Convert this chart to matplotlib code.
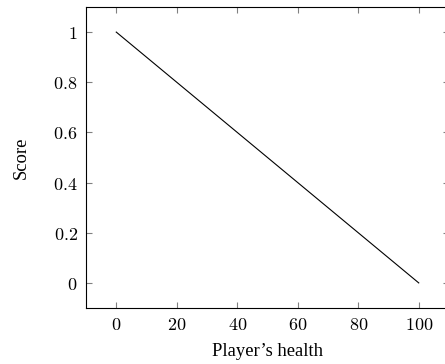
import matplotlib
matplotlib.use("Agg")
import matplotlib.pyplot as plt
from matplotlib.ticker import FuncFormatter

plt.rcParams['mathtext.fontset'] = 'cm'

# data: linear score over player's health
health = [0, 100]
score = [1, 0]
x_ticks = [0, 20, 40, 60, 80, 100]
y_ticks = [0, 0.2, 0.4, 0.6, 0.8, 1]

W, H = 445, 364
fig = plt.figure(figsize=(W / 100, H / 100), dpi=100)
# axes box in pixels: left 86, right 449 (cropped), top 7, bottom 308
left, right, top, bottom = 86, 449, 7, 308
ax = fig.add_axes([left / W, 1 - bottom / H, (right - left) / W, (bottom - top) / H])

ax.plot(health, score, color='black', linewidth=0.8)

ax.set_xlim(-10, 110)
ax.set_ylim(-0.1, 1.1)
ax.set_xticks(x_ticks)
ax.set_yticks(y_ticks)

fmt = FuncFormatter(lambda v, p: r'$%s$' % ('%g' % v))
ax.xaxis.set_major_formatter(fmt)
ax.yaxis.set_major_formatter(fmt)

ax.tick_params(direction='in', length=4, width=0.8, color='#808080',
               top=True, right=True, labelsize=13, pad=6)
for s in ax.spines.values():
    s.set_linewidth(0.8)

ax.set_xlabel("Player\u2019s health", family='Liberation Serif', fontsize=13.4, labelpad=6)
ax.set_ylabel("Score", family='Liberation Serif', fontsize=13.4, labelpad=17)

fig.savefig("out.png", dpi=100)
